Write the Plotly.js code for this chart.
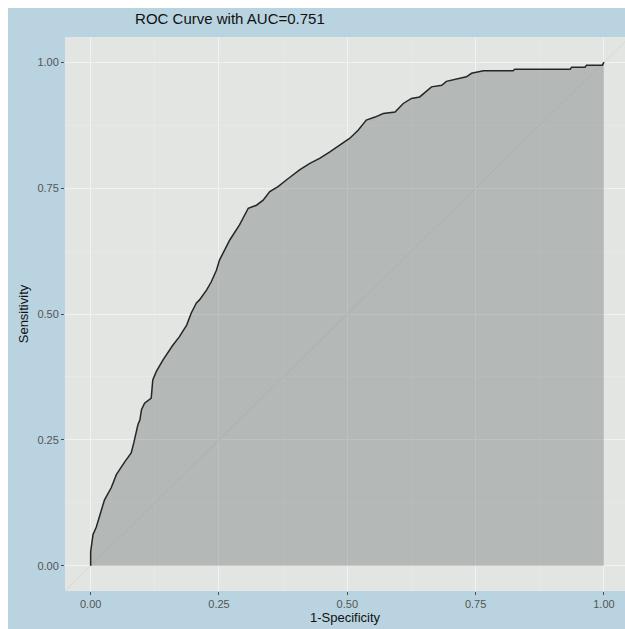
<!DOCTYPE html>
<html>
<head>
<meta charset="utf-8">
<script src="https://cdn.plot.ly/plotly-3.0.1.min.js"></script>
<style>
  html, body { margin: 0; padding: 0; background: #ffffff; }
  #chart { position: absolute; left: 8px; top: 8px; width: 617px; height: 621px; }
</style>
</head>
<body>
<div id="chart"></div>
<script>
// 1-Specificity (false positive rate)
const fpr = [0, 0, 0.0045, 0.011, 0.021, 0.027, 0.040, 0.050, 0.066, 0.079, 0.084, 0.092, 0.096, 0.099, 0.105, 0.118, 0.121, 0.128, 0.141, 0.160, 0.173, 0.187, 0.196, 0.206, 0.212, 0.226, 0.235, 0.245, 0.251, 0.271, 0.290, 0.307, 0.323, 0.336, 0.349, 0.365, 0.385, 0.407, 0.427, 0.446, 0.466, 0.485, 0.505, 0.521, 0.537, 0.554, 0.570, 0.593, 0.609, 0.625, 0.641, 0.664, 0.684, 0.693, 0.713, 0.732, 0.742, 0.765, 0.823, 0.826, 0.934, 0.937, 0.963, 0.966, 0.997, 1];
// Sensitivity (true positive rate)
const tpr = [0, 0.028, 0.062, 0.077, 0.111, 0.131, 0.155, 0.181, 0.206, 0.224, 0.244, 0.280, 0.290, 0.310, 0.323, 0.333, 0.369, 0.386, 0.409, 0.438, 0.455, 0.478, 0.502, 0.522, 0.528, 0.548, 0.564, 0.587, 0.607, 0.647, 0.677, 0.710, 0.716, 0.726, 0.743, 0.753, 0.769, 0.786, 0.799, 0.809, 0.822, 0.835, 0.849, 0.865, 0.885, 0.891, 0.898, 0.901, 0.918, 0.928, 0.931, 0.951, 0.954, 0.962, 0.966, 0.971, 0.978, 0.983, 0.983, 0.986, 0.986, 0.990, 0.990, 0.994, 0.994, 1];
// reference diagonal
const diagX = [-0.1, 1.1];
const diagY = [-0.1, 1.1];
const tickVals = [0, 0.25, 0.5, 0.75, 1];
const tickText = ["0.00", "0.25", "0.50", "0.75", "1.00"];
const chartTitle = "ROC Curve with AUC=0.751";
const xTitle = "1-Specificity";
const yTitle = "Sensitivity";

const FONT = "Liberation Sans, Arial, Helvetica, sans-serif";

const traces = [
  {
    x: diagX, y: diagY, type: "scatter", mode: "lines",
    line: { color: "rgb(212,215,214)", width: 0.9 },
    hoverinfo: "skip", showlegend: false
  },
  {
    x: fpr, y: tpr, type: "scatter", mode: "lines",
    fill: "tozeroy", fillcolor: "rgba(100,106,106,0.36)",
    line: { color: "#262626", width: 1.5 },
    hoverinfo: "skip", showlegend: false
  }
];

const axisCommon = {
  tickmode: "array", tickvals: tickVals, ticktext: tickText,
  ticks: "outside", ticklen: 3, tickwidth: 1, tickcolor: "#4d4d4d",
  tickfont: { family: FONT, size: 11, color: "#555555" },
  showgrid: true, gridcolor: "#f1f3f2", gridwidth: 1,
  minor: { dtick: 0.125, showgrid: true, gridcolor: "#eaeceb", gridwidth: 0.6, ticks: "" },
  zeroline: false, showline: false, fixedrange: true
};

const layout = {
  width: 617, height: 621,
  margin: { l: 57, r: 0, t: 29, b: 38 },
  paper_bgcolor: "rgb(185,211,224)",
  plot_bgcolor: "rgb(226,229,226)",
  title: {
    text: chartTitle, xref: "container", x: 0.206, xanchor: "left",
    yref: "container", y: 0.983, yanchor: "middle",
    font: { family: FONT, size: 15, color: "#111111" }
  },
  xaxis: Object.assign({}, axisCommon, {
    range: [-0.05, 1.041],
    title: { text: xTitle, standoff: 2, font: { family: FONT, size: 13, color: "#111111" } }
  }),
  yaxis: Object.assign({}, axisCommon, {
    range: [-0.05, 1.05],
    title: { text: yTitle, standoff: 5, font: { family: FONT, size: 13, color: "#111111" } }
  })
};

Plotly.newPlot("chart", traces, layout, { staticPlot: true, displayModeBar: false });
</script>
</body>
</html>
